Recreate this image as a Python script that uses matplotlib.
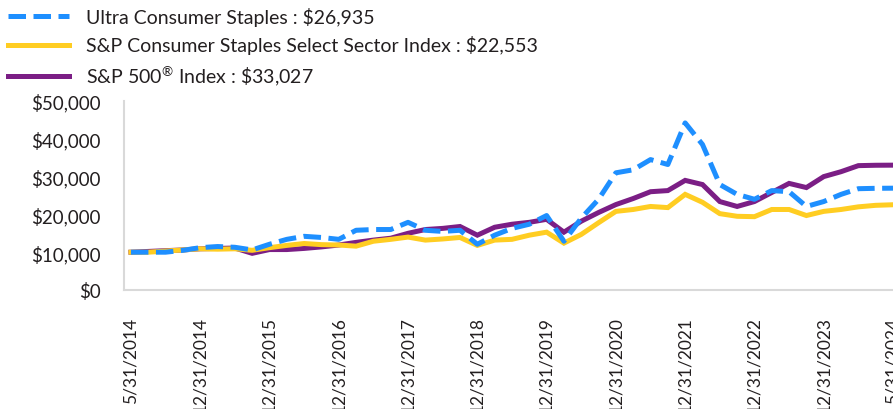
import matplotlib
matplotlib.use("Agg")
import matplotlib.pyplot as plt
from matplotlib.ticker import FuncFormatter

plt.rcParams['font.family'] = ['Lato', 'DejaVu Sans']
plt.rcParams['mathtext.fontset'] = 'custom'
plt.rcParams['mathtext.rm'] = 'Lato'
plt.rcParams['mathtext.it'] = 'Lato:italic'

# quarterly points, tick labels shown every 4th point
tick_labels = ['5/31/2014', '12/31/2014', '12/31/2015', '12/31/2016', '12/31/2017',
               '12/31/2018', '12/31/2019', '12/31/2020', '12/31/2021', '12/31/2022',
               '12/31/2023', '5/31/2024']

ultra = [10000, 10000, 10000, 10500, 11200, 11500, 11300, 10600, 12100, 13400,
         14200, 13900, 13400, 15800, 16000, 16000, 17900, 15800, 15500, 15800,
         12100, 14500, 16300, 17400, 19700, 12900, 19000, 24000, 31000, 31800,
         34500, 33200, 44200, 38500, 27900, 25300, 24000, 26300, 26000, 22100,
         23400, 25300, 26800, 26900, 26935]

staples = [10000, 10000, 10300, 10600, 10900, 10800, 10900, 10500, 11200, 11800,
           12300, 12000, 11900, 11600, 12900, 13400, 14000, 13200, 13500, 13900,
           11800, 13200, 13400, 14500, 15300, 12400, 14700, 17800, 20800, 21300,
           22100, 21800, 25300, 23200, 20200, 19500, 19400, 21300, 21300, 19700,
           20800, 21300, 22000, 22400, 22553]

sp500 = [10000, 10200, 10400, 10600, 10900, 11000, 11100, 9700, 10700, 10700,
         11000, 11400, 11900, 12600, 13200, 13700, 15000, 16000, 16300, 16800,
         14500, 16600, 17400, 17900, 18700, 15300, 18200, 20500, 22600, 24200,
         26000, 26300, 29000, 27900, 23400, 22100, 23400, 25800, 28200, 27100,
         30000, 31300, 32900, 33000, 33027]

labels = ['Ultra Consumer Staples : $26,935',
          'S&P Consumer Staples Select Sector Index : $22,553',
          'S&P 500$^{®}$ Index : \\$33,027']

x = list(range(len(ultra)))
text_color = '#231f20'

fig = plt.figure(figsize=(8.93, 4.10), dpi=100)
ax = fig.add_axes([124 / 893, 119 / 410, 769 / 893, 189 / 410])

l3, = ax.plot(x, sp500, color='#7B1E85', lw=3.6, solid_joinstyle='miter', zorder=2)
l2, = ax.plot(x, staples, color='#FFCD22', lw=3.6, solid_joinstyle='miter', zorder=3)
l1, = ax.plot(x, ultra, color='#1E8FFF', lw=3.6, dashes=(3.5, 1.5), zorder=4)

ax.set_xlim(-0.4, 44)
ax.set_ylim(0, 50000)
ax.set_yticks(range(0, 50001, 10000))
ax.yaxis.set_major_formatter(FuncFormatter(lambda v, p: '${:,.0f}'.format(v)))
ax.set_xticks(range(0, 45, 4))
ax.set_xticklabels(tick_labels, rotation=90, va='top')

ax.tick_params(axis='y', length=0, pad=17, labelsize=13.5, labelcolor=text_color)
ax.tick_params(axis='x', length=0, pad=19, labelsize=12.5, labelcolor=text_color)

for side in ['top', 'right']:
    ax.spines[side].set_visible(False)
for side in ['left', 'bottom']:
    ax.spines[side].set_color('#d9d9d9')
    ax.spines[side].set_linewidth(1.5)

leg = fig.legend([l1, l2, l3], labels, loc='upper left', bbox_to_anchor=(0.005, 0.99),
                 frameon=False, fontsize=14, handlelength=3.1, handletextpad=0.9,
                 labelspacing=0.48, borderpad=0.2, borderaxespad=0)
for t in leg.get_texts():
    t.set_color(text_color)

plt.savefig('out.png', dpi=100)
